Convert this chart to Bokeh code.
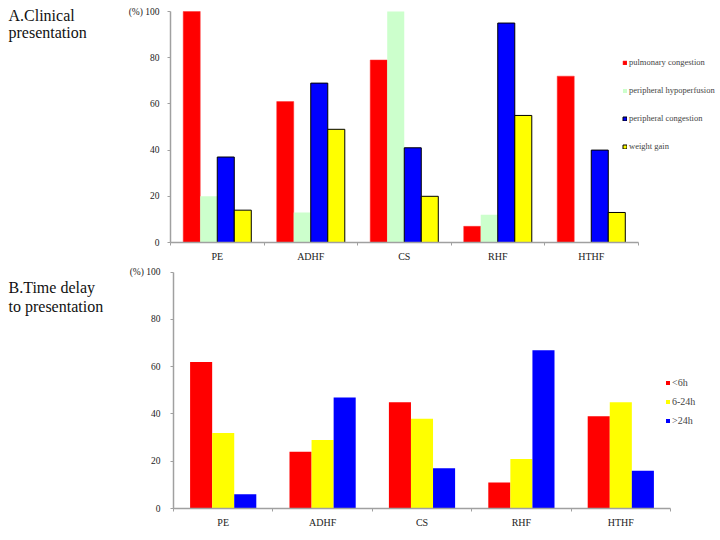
from bokeh.plotting import figure
from bokeh.models import ColumnDataSource, FixedTicker, Legend, LegendItem, Label, Range1d
from bokeh.layouts import row
from bokeh.transform import dodge
from bokeh.embed import file_html
from bokeh.resources import INLINE

categories = ["PE", "ADHF", "CS", "RHF", "HTHF"]

# Panel A: clinical presentation (%)
a_pulmonary_congestion = [100, 61, 79, 7, 72]
a_peripheral_hypoperfusion = [20, 13, 100, 12, 0]
a_peripheral_congestion = [37, 69, 41, 95, 40]
a_weight_gain = [14, 49, 20, 55, 13]

# Panel B: time delay to presentation (%)
b_lt6h = [62, 24, 45, 11, 39]
b_6_24h = [32, 29, 38, 21, 45]
b_gt24h = [6, 47, 17, 67, 16]

y_ticks = [0, 20, 40, 60, 80, 100]

FONT = "Liberation Serif"
AXIS_GRAY = "#a0a0a0"
TITLE_W = 116


def title_fig(height, bb, lines):
    fh = height - bb
    t = figure(width=TITLE_W, height=height, output_backend="svg", toolbar_location=None,
               x_range=Range1d(0, TITLE_W), y_range=Range1d(0, fh),
               x_axis_location=None, y_axis_location=None,
               min_border_left=0, min_border_right=0, min_border_top=0, min_border_bottom=bb)
    t.outline_line_color = None
    t.xgrid.visible = False
    t.ygrid.visible = False
    for txt, y in lines:
        t.add_layout(Label(x=8, y=fh - y, text=txt, text_font=FONT, text_font_size="16px",
                           text_baseline="alphabetic", text_color="#111111"))
    return t


def main_fig(height, bl, top_px, bb, x_end, px_per_unit, standoff):
    # frame spans from figure top to the x axis; y=100 sits top_px below the top
    y_end = 100 + top_px / px_per_unit
    p = figure(width=720 - TITLE_W, height=height, output_backend="svg", toolbar_location=None,
               x_range=Range1d(0, x_end), y_range=Range1d(0, y_end),
               min_border_left=bl, min_border_right=0, min_border_top=0, min_border_bottom=bb)
    p.outline_line_color = None
    p.xgrid.visible = False
    p.ygrid.visible = False
    n = len(categories)
    centers = [i + 0.5 for i in range(n)]
    p.xaxis.ticker = FixedTicker(ticks=centers, minor_ticks=list(range(n + 1)))
    p.xaxis.bounds = (0, n)
    p.xaxis.major_label_overrides = {c: lab for c, lab in zip(centers, categories)}
    p.xaxis.major_tick_out = 0
    p.xaxis.major_tick_in = 0
    p.xaxis.minor_tick_out = 3
    p.xaxis.minor_tick_in = 0
    p.xaxis.major_label_standoff = 5
    p.yaxis.ticker = FixedTicker(ticks=y_ticks)
    p.yaxis.bounds = (0, 100)
    p.yaxis.major_label_overrides = {100: "(%) 100"}
    p.yaxis.major_tick_out = 3
    p.yaxis.major_tick_in = 0
    p.yaxis.minor_tick_out = 0
    p.yaxis.minor_tick_in = 0
    p.yaxis.major_label_standoff = standoff
    for ax in (p.xaxis, p.yaxis):
        ax.axis_line_color = AXIS_GRAY
        ax.axis_line_width = 1.5
        ax.major_tick_line_color = AXIS_GRAY
        ax.minor_tick_line_color = AXIS_GRAY
        ax.major_label_text_font = FONT
        ax.major_label_text_color = "#222222"
    p.xaxis.major_label_text_font_size = "10px"
    p.yaxis.major_label_text_font_size = "9.5px"
    return p


# ---------------- Panel A ----------------
hA, bbA = 266, 24
srcA = ColumnDataSource(dict(x=[i + 0.5 for i in range(len(categories))],
                             pc=a_pulmonary_congestion, ph=a_peripheral_hypoperfusion,
                             pg=a_peripheral_congestion, wg=a_weight_gain))
# frame: left 170, x=5 at 637.5 -> 93.5 px per category; 2.31 px per %
pA = main_fig(hA, 170 - TITLE_W, 11, bbA, (720 - 170) / 93.5, 2.31, 8)
wA = 0.182
rA1 = pA.vbar(x=dodge("x", -1.5 * wA, range=pA.x_range), top="pc", width=wA, source=srcA,
              fill_color="#ff0000", line_color="#ff3030", line_width=0.5)
rA2 = pA.vbar(x=dodge("x", -0.5 * wA, range=pA.x_range), top="ph", width=wA, source=srcA,
              fill_color="#ccffcc", line_color=None)
rA3 = pA.vbar(x=dodge("x", 0.5 * wA, range=pA.x_range), top="pg", width=wA, source=srcA,
              fill_color="#0000ff", line_color="black", line_width=1)
rA4 = pA.vbar(x=dodge("x", 1.5 * wA, range=pA.x_range), top="wg", width=wA, source=srcA,
              fill_color="#ffff00", line_color="black", line_width=1)
legA = Legend(items=[LegendItem(label="pulmonary congestion", renderers=[rA1]),
                     LegendItem(label="peripheral hypoperfusion", renderers=[rA2]),
                     LegendItem(label="peripheral congestion", renderers=[rA3]),
                     LegendItem(label="weight gain", renderers=[rA4])],
              location=(452, 90), orientation="vertical",
              glyph_width=5, glyph_height=5, label_height=12, spacing=16,
              label_standoff=2, padding=0, margin=0,
              border_line_color=None, background_fill_alpha=0,
              label_text_font=FONT, label_text_font_size="8.5px")
pA.add_layout(legA, "center")
tA = title_fig(hA, bbA, [("A.Clinical", 15), ("presentation", 32)])

# ---------------- Panel B ----------------
hB, bbB = 274, 32
srcB = ColumnDataSource(dict(x=[i + 0.5 for i in range(len(categories))],
                             a=b_lt6h, b=b_6_24h, c=b_gt24h))
# frame: left 173, x=5 at 670 -> 99.4 px per category; 2.36 px per %
pB = main_fig(hB, 173 - TITLE_W, 5.7, bbB, (720 - 173) / 99.4, 2.36, 10)
wB = 0.222
rB1 = pB.vbar(x=dodge("x", -wB, range=pB.x_range), top="a", width=wB, source=srcB,
              fill_color="#ff0000", line_color=None)
rB2 = pB.vbar(x=dodge("x", 0, range=pB.x_range), top="b", width=wB, source=srcB,
              fill_color="#ffff00", line_color=None)
rB3 = pB.vbar(x=dodge("x", wB, range=pB.x_range), top="c", width=wB, source=srcB,
              fill_color="#0000ff", line_color=None)
legB = Legend(items=[LegendItem(label="<6h", renderers=[rB1]),
                     LegendItem(label="6-24h", renderers=[rB2]),
                     LegendItem(label=">24h", renderers=[rB3])],
              location=(492, 82), orientation="vertical",
              glyph_width=5, glyph_height=5, label_height=12, spacing=7,
              label_standoff=2, padding=0, margin=0,
              border_line_color=None, background_fill_alpha=0,
              label_text_font=FONT, label_text_font_size="10px")
pB.add_layout(legB, "center")
tB = title_fig(hB, bbB, [("B.Time delay", 21), ("to presentation", 39.5)])

open("out.html", "w").write(file_html([row(tA, pA), row(tB, pB)], INLINE))
